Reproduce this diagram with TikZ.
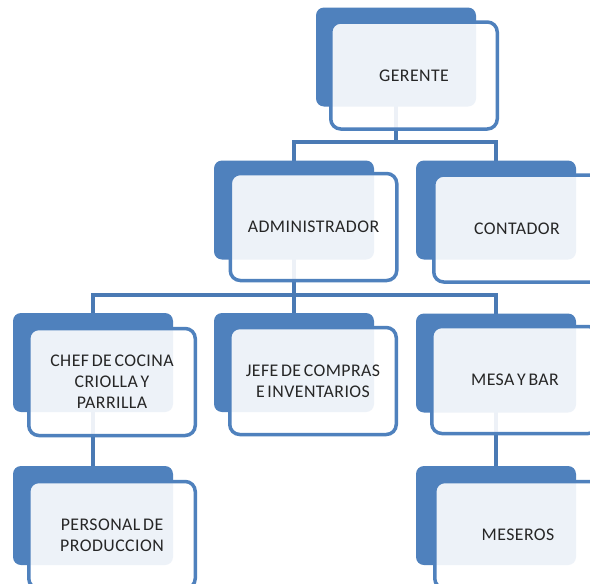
\documentclass[tikz,border=0pt]{standalone}
\usepackage{fontspec}
\newfontfamily\lblfont[LetterSpace=2.5,WordSpace=0.6]{Carlito}
\definecolor{boxblue}{HTML}{4F81BD}
\definecolor{connblue}{HTML}{4A7AB4}
\definecolor{txtgray}{HTML}{262626}
\tikzset{
  backbox/.style={draw=none, fill=boxblue, rounded corners=8pt, minimum width=160pt, minimum height=99pt, inner sep=0pt},
  frontbox/.style={draw=boxblue, line width=3.5pt, fill=white, fill opacity=0.9, text opacity=1, rounded corners=10pt, minimum width=166.5pt, minimum height=107pt, inner sep=0pt, align=center, text=txtgray, font=\lblfont\fontsize{17.8}{21}\selectfont},
  conn/.style={draw=connblue, line width=3.8pt}
}
\begin{document}
\begin{tikzpicture}[x=1pt,y=-1pt]
\useasboundingbox (0,0) rectangle (590,584);
\clip (0,0) rectangle (590,584);
\fill[white] (0,0) rectangle (590,584);
% anchor coordinates for back boxes
\coordinate (pger) at (396,57);
\coordinate (padm) at (294,210);
\coordinate (pcon) at (496,210);
\coordinate (pche) at (93,362.5);
\coordinate (pjef) at (294,362.5);
\coordinate (pmes) at (496,363);
\coordinate (pper) at (93,515.5);
\coordinate (pmsr) at (496,515.5);
\coordinate (h1) at (0,142);
\coordinate (h2) at (0,295);
% connectors
\draw[conn] (pger) -- (pger |- h1) -| (padm);
\draw[conn] (pger |- h1) -| (pcon);
\draw[conn] (padm) -- (padm |- h2) -| (pche);
\draw[conn] (padm |- h2) -- (pjef);
\draw[conn] (padm |- h2) -| (pmes);
\draw[conn] (pche) -- (pper);
\draw[conn] (pmes) -- (pmsr);
% back boxes
\node[backbox] (gerB) at (pger) {};
\node[backbox] (admB) at (padm) {};
\node[backbox] (conB) at (pcon) {};
\node[backbox] (cheB) at (pche) {};
\node[backbox] (jefB) at (pjef) {};
\node[backbox] (mesB) at (pmes) {};
\node[backbox] (perB) at (pper) {};
\node[backbox] (msrB) at (pmsr) {};
% front boxes
\node[frontbox] (ger) at ([shift={(18,18.5)}]pger) {GERENTE};
\node[frontbox] (adm) at ([shift={(19.5,17)}]padm) {ADMINISTRADOR};
\node[frontbox] (con) at ([shift={(21,18.5)}]pcon) {CONTADOR};
\node[frontbox] (che) at ([shift={(19,19.5)}]pche) {CHEF DE COCINA\\CRIOLLA Y\\PARRILLA};
\node[frontbox] (jef) at ([shift={(19,18.5)}]pjef) {JEFE DE COMPRAS\\E INVENTARIOS};
\node[frontbox] (mes) at ([shift={(19,17)}]pmes) {MESA Y BAR};
\node[frontbox] (per) at ([shift={(19,19.5)}]pper) {PERSONAL DE\\PRODUCCION};
\node[frontbox] (msr) at ([shift={(22,19.5)}]pmsr) {MESEROS};
\end{tikzpicture}
\end{document}
